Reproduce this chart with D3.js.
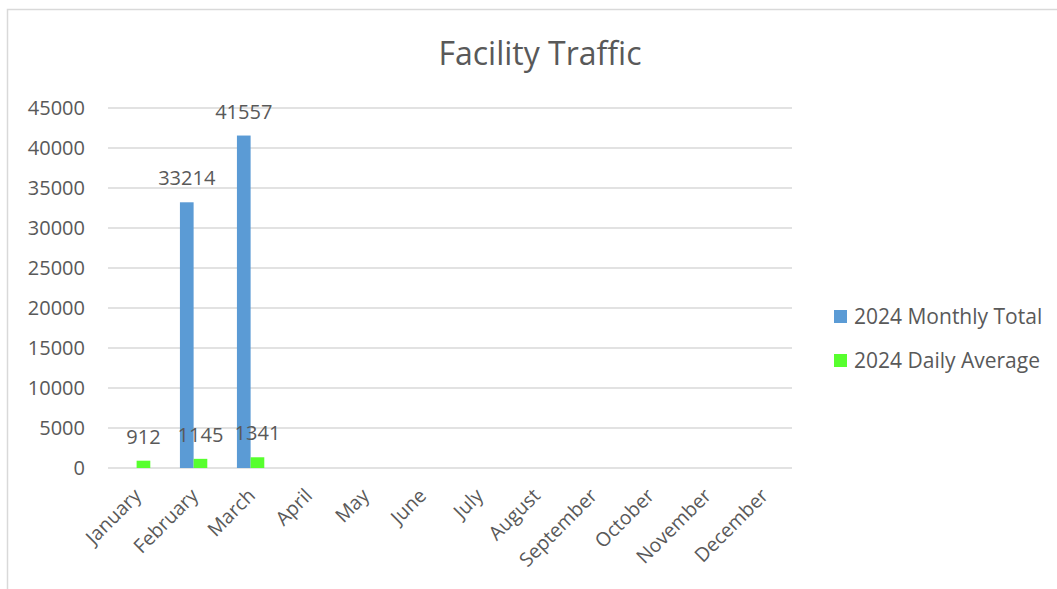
<!DOCTYPE html>
<html lang="en">
  <head>
    <meta charset="UTF-8" />
    <title>Facility Traffic</title>
    <script src="https://d3js.org/d3.v7.min.js"></script>
    <style>
      body { margin: 0; background: #fff; }
      text { font-family: "Open Sans", "Noto Sans", sans-serif; fill: #595959; }
    </style>
  </head>
  <body>
    <svg id="chart"></svg>
    <script>
      let months = ["January", "February", "March", "April", "May", "June",
        "July", "August", "September", "October", "November", "December"];
      let seriesNames = ["2024 Monthly Total", "2024 Daily Average"];
      let monthlyTotal = [null, 33214, 41557, null, null, null, null, null, null, null, null, null];
      let dailyAverage = [912, 1145, 1341, null, null, null, null, null, null, null, null, null];
      let yTicks = [0, 5000, 10000, 15000, 20000, 25000, 30000, 35000, 40000, 45000];
      let colors = ["#5b9bd5", "#57ff2e"];

      let width = 1057, height = 589;
      let svg = d3.select("#chart").attr("width", width).attr("height", height);

      // chart area border (only left/top visible)
      svg.append("rect")
        .attr("x", 7.5).attr("y", 9.5)
        .attr("width", 1100).attr("height", 700)
        .attr("fill", "none").attr("stroke", "#d9d9d9").attr("stroke-width", 1.5);

      let plotLeft = 108, plotRight = 792, plotTop = 108, plotBottom = 468;

      let x0 = d3.scaleBand().domain(months).range([plotLeft, plotRight]);
      let bw = x0.bandwidth();
      let x1 = d3.scaleBand().domain(seriesNames)
        .range([bw * 0.262, bw * 0.742]);
      let y = d3.scaleLinear().domain([0, 45000]).range([plotBottom, plotTop]);

      // gridlines
      svg.append("g").selectAll("line").data(yTicks).enter().append("line")
        .attr("x1", plotLeft).attr("x2", plotRight)
        .attr("y1", d => y(d)).attr("y2", d => y(d))
        .attr("stroke", "#d9d9d9").attr("stroke-width", 1.5);

      // y axis labels
      svg.append("g").selectAll("text").data(yTicks).enter().append("text")
        .attr("x", 85).attr("y", d => y(d)).attr("dy", "0.36em")
        .attr("text-anchor", "end").style("font-size", "20px")
        .text(d => d);

      let rows = [];
      months.forEach((m, i) => {
        rows.push({ m: m, s: seriesNames[0], v: monthlyTotal[i], c: colors[0] });
        rows.push({ m: m, s: seriesNames[1], v: dailyAverage[i], c: colors[1] });
      });
      rows = rows.filter(d => d.v != null);

      svg.append("g").selectAll("rect").data(rows).enter().append("rect")
        .attr("x", d => x0(d.m) + x1(d.s))
        .attr("width", x1.bandwidth())
        .attr("y", d => y(d.v))
        .attr("height", d => y(0) - y(d.v))
        .attr("fill", d => d.c);

      svg.append("g").selectAll("text").data(rows).enter().append("text")
        .attr("x", d => x0(d.m) + x1(d.s) + x1.bandwidth() / 2)
        .attr("y", d => y(d.v) - 17)
        .attr("text-anchor", "middle").style("font-size", "20px")
        .text(d => d.v);

      // x axis labels
      svg.append("g").selectAll("text").data(months).enter().append("text")
        .attr("transform", d => "translate(" + (x0(d) + bw / 2 - 1) + ",490) rotate(-45)")
        .attr("text-anchor", "end").attr("dy", "0.5em")
        .style("font-size", "19.5px")
        .text(d => d);

      // title
      svg.append("text")
        .attr("x", 540).attr("y", 65)
        .attr("text-anchor", "middle").style("font-size", "32px")
        .text("Facility Traffic");

      // legend
      let legend = svg.append("g").selectAll("g").data(seriesNames).enter().append("g")
        .attr("transform", (d, i) => "translate(834," + (316 + i * 44) + ")");
      legend.append("rect")
        .attr("x", 0).attr("y", -6).attr("width", 13).attr("height", 13)
        .attr("fill", (d, i) => colors[i]);
      legend.append("text")
        .attr("x", 20).attr("dy", "0.36em")
        .style("font-size", "21px")
        .text(d => d);
    </script>
  </body>
</html>
